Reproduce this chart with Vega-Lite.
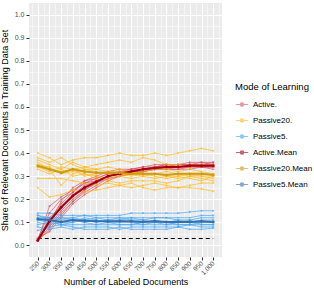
{
"$schema": "https://vega.github.io/schema/vega-lite/v6.json",
"autosize": "none",
"width": 193, "height": 254,
"padding": {"left": 29, "top": 3, "right": 92, "bottom": 34},
"background": "white",
"config": {
  "view": {"fill": "#EBEBEB", "stroke": null},
  "font": "Liberation Sans",
  "axis": {"domain": false, "gridColor": "white", "tickColor": "#333333", "tickSize": 3, "labelColor": "#4D4D4D", "labelFontSize": 7, "titleFontSize": 9, "titleFontWeight": "normal", "titleColor": "black", "labelOverlap": false}
},
"datasets": {
"ref": [{"n": 250, "v": 0.03}, {"n": 1000, "v": 0.03}],
"d": [
{"m":"Active.","r":1,"n":250,"v":0.02},{"m":"Active.","r":1,"n":300,"v":0.17},{"m":"Active.","r":1,"n":350,"v":0.21},{"m":"Active.","r":1,"n":400,"v":0.24},{"m":"Active.","r":1,"n":450,"v":0.27},{"m":"Active.","r":1,"n":500,"v":0.29},{"m":"Active.","r":1,"n":550,"v":0.31},{"m":"Active.","r":1,"n":600,"v":0.32},{"m":"Active.","r":1,"n":650,"v":0.33},{"m":"Active.","r":1,"n":700,"v":0.34},{"m":"Active.","r":1,"n":750,"v":0.34},{"m":"Active.","r":1,"n":800,"v":0.35},{"m":"Active.","r":1,"n":850,"v":0.35},{"m":"Active.","r":1,"n":900,"v":0.35},{"m":"Active.","r":1,"n":950,"v":0.36},{"m":"Active.","r":1,"n":1000,"v":0.36},
{"m":"Active.","r":2,"n":250,"v":0.03},{"m":"Active.","r":2,"n":300,"v":0.14},{"m":"Active.","r":2,"n":350,"v":0.20},{"m":"Active.","r":2,"n":400,"v":0.23},{"m":"Active.","r":2,"n":450,"v":0.27},{"m":"Active.","r":2,"n":500,"v":0.28},{"m":"Active.","r":2,"n":550,"v":0.30},{"m":"Active.","r":2,"n":600,"v":0.32},{"m":"Active.","r":2,"n":650,"v":0.32},{"m":"Active.","r":2,"n":700,"v":0.33},{"m":"Active.","r":2,"n":750,"v":0.34},{"m":"Active.","r":2,"n":800,"v":0.34},{"m":"Active.","r":2,"n":850,"v":0.35},{"m":"Active.","r":2,"n":900,"v":0.35},{"m":"Active.","r":2,"n":950,"v":0.35},{"m":"Active.","r":2,"n":1000,"v":0.35},
{"m":"Active.","r":3,"n":250,"v":0.02},{"m":"Active.","r":3,"n":300,"v":0.12},{"m":"Active.","r":3,"n":350,"v":0.17},{"m":"Active.","r":3,"n":400,"v":0.22},{"m":"Active.","r":3,"n":450,"v":0.26},{"m":"Active.","r":3,"n":500,"v":0.28},{"m":"Active.","r":3,"n":550,"v":0.30},{"m":"Active.","r":3,"n":600,"v":0.31},{"m":"Active.","r":3,"n":650,"v":0.33},{"m":"Active.","r":3,"n":700,"v":0.33},{"m":"Active.","r":3,"n":750,"v":0.34},{"m":"Active.","r":3,"n":800,"v":0.34},{"m":"Active.","r":3,"n":850,"v":0.34},{"m":"Active.","r":3,"n":900,"v":0.35},{"m":"Active.","r":3,"n":950,"v":0.35},{"m":"Active.","r":3,"n":1000,"v":0.34},
{"m":"Active.","r":4,"n":250,"v":0.02},{"m":"Active.","r":4,"n":300,"v":0.10},{"m":"Active.","r":4,"n":350,"v":0.16},{"m":"Active.","r":4,"n":400,"v":0.21},{"m":"Active.","r":4,"n":450,"v":0.25},{"m":"Active.","r":4,"n":500,"v":0.28},{"m":"Active.","r":4,"n":550,"v":0.30},{"m":"Active.","r":4,"n":600,"v":0.31},{"m":"Active.","r":4,"n":650,"v":0.32},{"m":"Active.","r":4,"n":700,"v":0.33},{"m":"Active.","r":4,"n":750,"v":0.33},{"m":"Active.","r":4,"n":800,"v":0.34},{"m":"Active.","r":4,"n":850,"v":0.34},{"m":"Active.","r":4,"n":900,"v":0.34},{"m":"Active.","r":4,"n":950,"v":0.35},{"m":"Active.","r":4,"n":1000,"v":0.35},
{"m":"Active.","r":5,"n":250,"v":0.03},{"m":"Active.","r":5,"n":300,"v":0.09},{"m":"Active.","r":5,"n":350,"v":0.15},{"m":"Active.","r":5,"n":400,"v":0.20},{"m":"Active.","r":5,"n":450,"v":0.24},{"m":"Active.","r":5,"n":500,"v":0.27},{"m":"Active.","r":5,"n":550,"v":0.29},{"m":"Active.","r":5,"n":600,"v":0.30},{"m":"Active.","r":5,"n":650,"v":0.32},{"m":"Active.","r":5,"n":700,"v":0.32},{"m":"Active.","r":5,"n":750,"v":0.33},{"m":"Active.","r":5,"n":800,"v":0.33},{"m":"Active.","r":5,"n":850,"v":0.34},{"m":"Active.","r":5,"n":900,"v":0.34},{"m":"Active.","r":5,"n":950,"v":0.34},{"m":"Active.","r":5,"n":1000,"v":0.34},
{"m":"Active.","r":6,"n":250,"v":0.02},{"m":"Active.","r":6,"n":300,"v":0.08},{"m":"Active.","r":6,"n":350,"v":0.14},{"m":"Active.","r":6,"n":400,"v":0.19},{"m":"Active.","r":6,"n":450,"v":0.23},{"m":"Active.","r":6,"n":500,"v":0.26},{"m":"Active.","r":6,"n":550,"v":0.29},{"m":"Active.","r":6,"n":600,"v":0.30},{"m":"Active.","r":6,"n":650,"v":0.31},{"m":"Active.","r":6,"n":700,"v":0.32},{"m":"Active.","r":6,"n":750,"v":0.33},{"m":"Active.","r":6,"n":800,"v":0.33},{"m":"Active.","r":6,"n":850,"v":0.33},{"m":"Active.","r":6,"n":900,"v":0.34},{"m":"Active.","r":6,"n":950,"v":0.34},{"m":"Active.","r":6,"n":1000,"v":0.34},
{"m":"Active.","r":7,"n":250,"v":0.02},{"m":"Active.","r":7,"n":300,"v":0.07},{"m":"Active.","r":7,"n":350,"v":0.13},{"m":"Active.","r":7,"n":400,"v":0.19},{"m":"Active.","r":7,"n":450,"v":0.24},{"m":"Active.","r":7,"n":500,"v":0.27},{"m":"Active.","r":7,"n":550,"v":0.30},{"m":"Active.","r":7,"n":600,"v":0.31},{"m":"Active.","r":7,"n":650,"v":0.31},{"m":"Active.","r":7,"n":700,"v":0.33},{"m":"Active.","r":7,"n":750,"v":0.33},{"m":"Active.","r":7,"n":800,"v":0.34},{"m":"Active.","r":7,"n":850,"v":0.34},{"m":"Active.","r":7,"n":900,"v":0.35},{"m":"Active.","r":7,"n":950,"v":0.34},{"m":"Active.","r":7,"n":1000,"v":0.33},
{"m":"Active.","r":8,"n":250,"v":0.03},{"m":"Active.","r":8,"n":300,"v":0.06},{"m":"Active.","r":8,"n":350,"v":0.12},{"m":"Active.","r":8,"n":400,"v":0.18},{"m":"Active.","r":8,"n":450,"v":0.22},{"m":"Active.","r":8,"n":500,"v":0.25},{"m":"Active.","r":8,"n":550,"v":0.28},{"m":"Active.","r":8,"n":600,"v":0.30},{"m":"Active.","r":8,"n":650,"v":0.31},{"m":"Active.","r":8,"n":700,"v":0.32},{"m":"Active.","r":8,"n":750,"v":0.33},{"m":"Active.","r":8,"n":800,"v":0.33},{"m":"Active.","r":8,"n":850,"v":0.33},{"m":"Active.","r":8,"n":900,"v":0.33},{"m":"Active.","r":8,"n":950,"v":0.34},{"m":"Active.","r":8,"n":1000,"v":0.34},
{"m":"Active.","r":9,"n":250,"v":0.02},{"m":"Active.","r":9,"n":300,"v":0.11},{"m":"Active.","r":9,"n":350,"v":0.18},{"m":"Active.","r":9,"n":400,"v":0.23},{"m":"Active.","r":9,"n":450,"v":0.28},{"m":"Active.","r":9,"n":500,"v":0.30},{"m":"Active.","r":9,"n":550,"v":0.32},{"m":"Active.","r":9,"n":600,"v":0.33},{"m":"Active.","r":9,"n":650,"v":0.33},{"m":"Active.","r":9,"n":700,"v":0.34},{"m":"Active.","r":9,"n":750,"v":0.35},{"m":"Active.","r":9,"n":800,"v":0.35},{"m":"Active.","r":9,"n":850,"v":0.35},{"m":"Active.","r":9,"n":900,"v":0.36},{"m":"Active.","r":9,"n":950,"v":0.36},{"m":"Active.","r":9,"n":1000,"v":0.35},
{"m":"Active.","r":10,"n":250,"v":0.02},{"m":"Active.","r":10,"n":300,"v":0.10},{"m":"Active.","r":10,"n":350,"v":0.19},{"m":"Active.","r":10,"n":400,"v":0.25},{"m":"Active.","r":10,"n":450,"v":0.28},{"m":"Active.","r":10,"n":500,"v":0.29},{"m":"Active.","r":10,"n":550,"v":0.31},{"m":"Active.","r":10,"n":600,"v":0.31},{"m":"Active.","r":10,"n":650,"v":0.32},{"m":"Active.","r":10,"n":700,"v":0.33},{"m":"Active.","r":10,"n":750,"v":0.34},{"m":"Active.","r":10,"n":800,"v":0.35},{"m":"Active.","r":10,"n":850,"v":0.34},{"m":"Active.","r":10,"n":900,"v":0.35},{"m":"Active.","r":10,"n":950,"v":0.35},{"m":"Active.","r":10,"n":1000,"v":0.36},
{"m":"Passive20.","r":11,"n":250,"v":0.40},{"m":"Passive20.","r":11,"n":300,"v":0.38},{"m":"Passive20.","r":11,"n":350,"v":0.35},{"m":"Passive20.","r":11,"n":400,"v":0.37},{"m":"Passive20.","r":11,"n":450,"v":0.38},{"m":"Passive20.","r":11,"n":500,"v":0.38},{"m":"Passive20.","r":11,"n":550,"v":0.39},{"m":"Passive20.","r":11,"n":600,"v":0.40},{"m":"Passive20.","r":11,"n":650,"v":0.39},{"m":"Passive20.","r":11,"n":700,"v":0.39},{"m":"Passive20.","r":11,"n":750,"v":0.40},{"m":"Passive20.","r":11,"n":800,"v":0.39},{"m":"Passive20.","r":11,"n":850,"v":0.40},{"m":"Passive20.","r":11,"n":900,"v":0.41},{"m":"Passive20.","r":11,"n":950,"v":0.42},{"m":"Passive20.","r":11,"n":1000,"v":0.41},
{"m":"Passive20.","r":12,"n":250,"v":0.37},{"m":"Passive20.","r":12,"n":300,"v":0.35},{"m":"Passive20.","r":12,"n":350,"v":0.33},{"m":"Passive20.","r":12,"n":400,"v":0.36},{"m":"Passive20.","r":12,"n":450,"v":0.34},{"m":"Passive20.","r":12,"n":500,"v":0.35},{"m":"Passive20.","r":12,"n":550,"v":0.36},{"m":"Passive20.","r":12,"n":600,"v":0.37},{"m":"Passive20.","r":12,"n":650,"v":0.36},{"m":"Passive20.","r":12,"n":700,"v":0.38},{"m":"Passive20.","r":12,"n":750,"v":0.37},{"m":"Passive20.","r":12,"n":800,"v":0.35},{"m":"Passive20.","r":12,"n":850,"v":0.35},{"m":"Passive20.","r":12,"n":900,"v":0.34},{"m":"Passive20.","r":12,"n":950,"v":0.35},{"m":"Passive20.","r":12,"n":1000,"v":0.34},
{"m":"Passive20.","r":13,"n":250,"v":0.36},{"m":"Passive20.","r":13,"n":300,"v":0.33},{"m":"Passive20.","r":13,"n":350,"v":0.26},{"m":"Passive20.","r":13,"n":400,"v":0.31},{"m":"Passive20.","r":13,"n":450,"v":0.33},{"m":"Passive20.","r":13,"n":500,"v":0.32},{"m":"Passive20.","r":13,"n":550,"v":0.31},{"m":"Passive20.","r":13,"n":600,"v":0.30},{"m":"Passive20.","r":13,"n":650,"v":0.31},{"m":"Passive20.","r":13,"n":700,"v":0.32},{"m":"Passive20.","r":13,"n":750,"v":0.33},{"m":"Passive20.","r":13,"n":800,"v":0.33},{"m":"Passive20.","r":13,"n":850,"v":0.32},{"m":"Passive20.","r":13,"n":900,"v":0.33},{"m":"Passive20.","r":13,"n":950,"v":0.32},{"m":"Passive20.","r":13,"n":1000,"v":0.31},
{"m":"Passive20.","r":14,"n":250,"v":0.35},{"m":"Passive20.","r":14,"n":300,"v":0.34},{"m":"Passive20.","r":14,"n":350,"v":0.31},{"m":"Passive20.","r":14,"n":400,"v":0.32},{"m":"Passive20.","r":14,"n":450,"v":0.31},{"m":"Passive20.","r":14,"n":500,"v":0.30},{"m":"Passive20.","r":14,"n":550,"v":0.29},{"m":"Passive20.","r":14,"n":600,"v":0.30},{"m":"Passive20.","r":14,"n":650,"v":0.29},{"m":"Passive20.","r":14,"n":700,"v":0.30},{"m":"Passive20.","r":14,"n":750,"v":0.31},{"m":"Passive20.","r":14,"n":800,"v":0.30},{"m":"Passive20.","r":14,"n":850,"v":0.30},{"m":"Passive20.","r":14,"n":900,"v":0.31},{"m":"Passive20.","r":14,"n":950,"v":0.30},{"m":"Passive20.","r":14,"n":1000,"v":0.30},
{"m":"Passive20.","r":15,"n":250,"v":0.34},{"m":"Passive20.","r":15,"n":300,"v":0.32},{"m":"Passive20.","r":15,"n":350,"v":0.34},{"m":"Passive20.","r":15,"n":400,"v":0.33},{"m":"Passive20.","r":15,"n":450,"v":0.30},{"m":"Passive20.","r":15,"n":500,"v":0.31},{"m":"Passive20.","r":15,"n":550,"v":0.32},{"m":"Passive20.","r":15,"n":600,"v":0.32},{"m":"Passive20.","r":15,"n":650,"v":0.31},{"m":"Passive20.","r":15,"n":700,"v":0.30},{"m":"Passive20.","r":15,"n":750,"v":0.29},{"m":"Passive20.","r":15,"n":800,"v":0.30},{"m":"Passive20.","r":15,"n":850,"v":0.29},{"m":"Passive20.","r":15,"n":900,"v":0.30},{"m":"Passive20.","r":15,"n":950,"v":0.30},{"m":"Passive20.","r":15,"n":1000,"v":0.29},
{"m":"Passive20.","r":16,"n":250,"v":0.33},{"m":"Passive20.","r":16,"n":300,"v":0.31},{"m":"Passive20.","r":16,"n":350,"v":0.33},{"m":"Passive20.","r":16,"n":400,"v":0.30},{"m":"Passive20.","r":16,"n":450,"v":0.31},{"m":"Passive20.","r":16,"n":500,"v":0.29},{"m":"Passive20.","r":16,"n":550,"v":0.28},{"m":"Passive20.","r":16,"n":600,"v":0.27},{"m":"Passive20.","r":16,"n":650,"v":0.28},{"m":"Passive20.","r":16,"n":700,"v":0.28},{"m":"Passive20.","r":16,"n":750,"v":0.28},{"m":"Passive20.","r":16,"n":800,"v":0.27},{"m":"Passive20.","r":16,"n":850,"v":0.28},{"m":"Passive20.","r":16,"n":900,"v":0.30},{"m":"Passive20.","r":16,"n":950,"v":0.29},{"m":"Passive20.","r":16,"n":1000,"v":0.28},
{"m":"Passive20.","r":17,"n":250,"v":0.29},{"m":"Passive20.","r":17,"n":300,"v":0.29},{"m":"Passive20.","r":17,"n":350,"v":0.29},{"m":"Passive20.","r":17,"n":400,"v":0.28},{"m":"Passive20.","r":17,"n":450,"v":0.27},{"m":"Passive20.","r":17,"n":500,"v":0.26},{"m":"Passive20.","r":17,"n":550,"v":0.27},{"m":"Passive20.","r":17,"n":600,"v":0.26},{"m":"Passive20.","r":17,"n":650,"v":0.25},{"m":"Passive20.","r":17,"n":700,"v":0.26},{"m":"Passive20.","r":17,"n":750,"v":0.27},{"m":"Passive20.","r":17,"n":800,"v":0.26},{"m":"Passive20.","r":17,"n":850,"v":0.25},{"m":"Passive20.","r":17,"n":900,"v":0.26},{"m":"Passive20.","r":17,"n":950,"v":0.27},{"m":"Passive20.","r":17,"n":1000,"v":0.27},
{"m":"Passive20.","r":18,"n":250,"v":0.25},{"m":"Passive20.","r":18,"n":300,"v":0.21},{"m":"Passive20.","r":18,"n":350,"v":0.22},{"m":"Passive20.","r":18,"n":400,"v":0.24},{"m":"Passive20.","r":18,"n":450,"v":0.23},{"m":"Passive20.","r":18,"n":500,"v":0.24},{"m":"Passive20.","r":18,"n":550,"v":0.25},{"m":"Passive20.","r":18,"n":600,"v":0.26},{"m":"Passive20.","r":18,"n":650,"v":0.27},{"m":"Passive20.","r":18,"n":700,"v":0.25},{"m":"Passive20.","r":18,"n":750,"v":0.24},{"m":"Passive20.","r":18,"n":800,"v":0.25},{"m":"Passive20.","r":18,"n":850,"v":0.25},{"m":"Passive20.","r":18,"n":900,"v":0.25},{"m":"Passive20.","r":18,"n":950,"v":0.245},{"m":"Passive20.","r":18,"n":1000,"v":0.235},
{"m":"Passive20.","r":19,"n":250,"v":0.38},{"m":"Passive20.","r":19,"n":300,"v":0.36},{"m":"Passive20.","r":19,"n":350,"v":0.38},{"m":"Passive20.","r":19,"n":400,"v":0.35},{"m":"Passive20.","r":19,"n":450,"v":0.33},{"m":"Passive20.","r":19,"n":500,"v":0.33},{"m":"Passive20.","r":19,"n":550,"v":0.34},{"m":"Passive20.","r":19,"n":600,"v":0.33},{"m":"Passive20.","r":19,"n":650,"v":0.32},{"m":"Passive20.","r":19,"n":700,"v":0.31},{"m":"Passive20.","r":19,"n":750,"v":0.31},{"m":"Passive20.","r":19,"n":800,"v":0.32},{"m":"Passive20.","r":19,"n":850,"v":0.31},{"m":"Passive20.","r":19,"n":900,"v":0.30},{"m":"Passive20.","r":19,"n":950,"v":0.31},{"m":"Passive20.","r":19,"n":1000,"v":0.31},
{"m":"Passive20.","r":20,"n":250,"v":0.34},{"m":"Passive20.","r":20,"n":300,"v":0.33},{"m":"Passive20.","r":20,"n":350,"v":0.32},{"m":"Passive20.","r":20,"n":400,"v":0.33},{"m":"Passive20.","r":20,"n":450,"v":0.34},{"m":"Passive20.","r":20,"n":500,"v":0.33},{"m":"Passive20.","r":20,"n":550,"v":0.32},{"m":"Passive20.","r":20,"n":600,"v":0.31},{"m":"Passive20.","r":20,"n":650,"v":0.30},{"m":"Passive20.","r":20,"n":700,"v":0.31},{"m":"Passive20.","r":20,"n":750,"v":0.30},{"m":"Passive20.","r":20,"n":800,"v":0.29},{"m":"Passive20.","r":20,"n":850,"v":0.30},{"m":"Passive20.","r":20,"n":900,"v":0.29},{"m":"Passive20.","r":20,"n":950,"v":0.28},{"m":"Passive20.","r":20,"n":1000,"v":0.30},
{"m":"Passive5.","r":21,"n":250,"v":0.14},{"m":"Passive5.","r":21,"n":300,"v":0.14},{"m":"Passive5.","r":21,"n":350,"v":0.13},{"m":"Passive5.","r":21,"n":400,"v":0.13},{"m":"Passive5.","r":21,"n":450,"v":0.13},{"m":"Passive5.","r":21,"n":500,"v":0.13},{"m":"Passive5.","r":21,"n":550,"v":0.13},{"m":"Passive5.","r":21,"n":600,"v":0.13},{"m":"Passive5.","r":21,"n":650,"v":0.14},{"m":"Passive5.","r":21,"n":700,"v":0.14},{"m":"Passive5.","r":21,"n":750,"v":0.14},{"m":"Passive5.","r":21,"n":800,"v":0.14},{"m":"Passive5.","r":21,"n":850,"v":0.14},{"m":"Passive5.","r":21,"n":900,"v":0.145},{"m":"Passive5.","r":21,"n":950,"v":0.15},{"m":"Passive5.","r":21,"n":1000,"v":0.15},
{"m":"Passive5.","r":22,"n":250,"v":0.13},{"m":"Passive5.","r":22,"n":300,"v":0.12},{"m":"Passive5.","r":22,"n":350,"v":0.12},{"m":"Passive5.","r":22,"n":400,"v":0.12},{"m":"Passive5.","r":22,"n":450,"v":0.13},{"m":"Passive5.","r":22,"n":500,"v":0.12},{"m":"Passive5.","r":22,"n":550,"v":0.12},{"m":"Passive5.","r":22,"n":600,"v":0.12},{"m":"Passive5.","r":22,"n":650,"v":0.12},{"m":"Passive5.","r":22,"n":700,"v":0.12},{"m":"Passive5.","r":22,"n":750,"v":0.12},{"m":"Passive5.","r":22,"n":800,"v":0.12},{"m":"Passive5.","r":22,"n":850,"v":0.12},{"m":"Passive5.","r":22,"n":900,"v":0.12},{"m":"Passive5.","r":22,"n":950,"v":0.13},{"m":"Passive5.","r":22,"n":1000,"v":0.13},
{"m":"Passive5.","r":23,"n":250,"v":0.12},{"m":"Passive5.","r":23,"n":300,"v":0.12},{"m":"Passive5.","r":23,"n":350,"v":0.11},{"m":"Passive5.","r":23,"n":400,"v":0.12},{"m":"Passive5.","r":23,"n":450,"v":0.11},{"m":"Passive5.","r":23,"n":500,"v":0.12},{"m":"Passive5.","r":23,"n":550,"v":0.11},{"m":"Passive5.","r":23,"n":600,"v":0.12},{"m":"Passive5.","r":23,"n":650,"v":0.11},{"m":"Passive5.","r":23,"n":700,"v":0.11},{"m":"Passive5.","r":23,"n":750,"v":0.12},{"m":"Passive5.","r":23,"n":800,"v":0.12},{"m":"Passive5.","r":23,"n":850,"v":0.11},{"m":"Passive5.","r":23,"n":900,"v":0.11},{"m":"Passive5.","r":23,"n":950,"v":0.12},{"m":"Passive5.","r":23,"n":1000,"v":0.12},
{"m":"Passive5.","r":24,"n":250,"v":0.11},{"m":"Passive5.","r":24,"n":300,"v":0.11},{"m":"Passive5.","r":24,"n":350,"v":0.10},{"m":"Passive5.","r":24,"n":400,"v":0.10},{"m":"Passive5.","r":24,"n":450,"v":0.11},{"m":"Passive5.","r":24,"n":500,"v":0.10},{"m":"Passive5.","r":24,"n":550,"v":0.11},{"m":"Passive5.","r":24,"n":600,"v":0.11},{"m":"Passive5.","r":24,"n":650,"v":0.10},{"m":"Passive5.","r":24,"n":700,"v":0.10},{"m":"Passive5.","r":24,"n":750,"v":0.10},{"m":"Passive5.","r":24,"n":800,"v":0.10},{"m":"Passive5.","r":24,"n":850,"v":0.11},{"m":"Passive5.","r":24,"n":900,"v":0.10},{"m":"Passive5.","r":24,"n":950,"v":0.11},{"m":"Passive5.","r":24,"n":1000,"v":0.11},
{"m":"Passive5.","r":25,"n":250,"v":0.10},{"m":"Passive5.","r":25,"n":300,"v":0.09},{"m":"Passive5.","r":25,"n":350,"v":0.10},{"m":"Passive5.","r":25,"n":400,"v":0.11},{"m":"Passive5.","r":25,"n":450,"v":0.10},{"m":"Passive5.","r":25,"n":500,"v":0.11},{"m":"Passive5.","r":25,"n":550,"v":0.10},{"m":"Passive5.","r":25,"n":600,"v":0.10},{"m":"Passive5.","r":25,"n":650,"v":0.10},{"m":"Passive5.","r":25,"n":700,"v":0.09},{"m":"Passive5.","r":25,"n":750,"v":0.10},{"m":"Passive5.","r":25,"n":800,"v":0.10},{"m":"Passive5.","r":25,"n":850,"v":0.10},{"m":"Passive5.","r":25,"n":900,"v":0.10},{"m":"Passive5.","r":25,"n":950,"v":0.10},{"m":"Passive5.","r":25,"n":1000,"v":0.10},
{"m":"Passive5.","r":26,"n":250,"v":0.09},{"m":"Passive5.","r":26,"n":300,"v":0.10},{"m":"Passive5.","r":26,"n":350,"v":0.09},{"m":"Passive5.","r":26,"n":400,"v":0.09},{"m":"Passive5.","r":26,"n":450,"v":0.09},{"m":"Passive5.","r":26,"n":500,"v":0.09},{"m":"Passive5.","r":26,"n":550,"v":0.09},{"m":"Passive5.","r":26,"n":600,"v":0.09},{"m":"Passive5.","r":26,"n":650,"v":0.09},{"m":"Passive5.","r":26,"n":700,"v":0.09},{"m":"Passive5.","r":26,"n":750,"v":0.09},{"m":"Passive5.","r":26,"n":800,"v":0.09},{"m":"Passive5.","r":26,"n":850,"v":0.09},{"m":"Passive5.","r":26,"n":900,"v":0.09},{"m":"Passive5.","r":26,"n":950,"v":0.09},{"m":"Passive5.","r":26,"n":1000,"v":0.09},
{"m":"Passive5.","r":27,"n":250,"v":0.08},{"m":"Passive5.","r":27,"n":300,"v":0.07},{"m":"Passive5.","r":27,"n":350,"v":0.08},{"m":"Passive5.","r":27,"n":400,"v":0.07},{"m":"Passive5.","r":27,"n":450,"v":0.08},{"m":"Passive5.","r":27,"n":500,"v":0.08},{"m":"Passive5.","r":27,"n":550,"v":0.08},{"m":"Passive5.","r":27,"n":600,"v":0.07},{"m":"Passive5.","r":27,"n":650,"v":0.08},{"m":"Passive5.","r":27,"n":700,"v":0.08},{"m":"Passive5.","r":27,"n":750,"v":0.08},{"m":"Passive5.","r":27,"n":800,"v":0.08},{"m":"Passive5.","r":27,"n":850,"v":0.08},{"m":"Passive5.","r":27,"n":900,"v":0.09},{"m":"Passive5.","r":27,"n":950,"v":0.08},{"m":"Passive5.","r":27,"n":1000,"v":0.08},
{"m":"Passive5.","r":28,"n":250,"v":0.065},{"m":"Passive5.","r":28,"n":300,"v":0.08},{"m":"Passive5.","r":28,"n":350,"v":0.09},{"m":"Passive5.","r":28,"n":400,"v":0.08},{"m":"Passive5.","r":28,"n":450,"v":0.07},{"m":"Passive5.","r":28,"n":500,"v":0.07},{"m":"Passive5.","r":28,"n":550,"v":0.07},{"m":"Passive5.","r":28,"n":600,"v":0.08},{"m":"Passive5.","r":28,"n":650,"v":0.07},{"m":"Passive5.","r":28,"n":700,"v":0.07},{"m":"Passive5.","r":28,"n":750,"v":0.07},{"m":"Passive5.","r":28,"n":800,"v":0.07},{"m":"Passive5.","r":28,"n":850,"v":0.08},{"m":"Passive5.","r":28,"n":900,"v":0.07},{"m":"Passive5.","r":28,"n":950,"v":0.07},{"m":"Passive5.","r":28,"n":1000,"v":0.075},
{"m":"Passive5.","r":29,"n":250,"v":0.13},{"m":"Passive5.","r":29,"n":300,"v":0.11},{"m":"Passive5.","r":29,"n":350,"v":0.09},{"m":"Passive5.","r":29,"n":400,"v":0.10},{"m":"Passive5.","r":29,"n":450,"v":0.12},{"m":"Passive5.","r":29,"n":500,"v":0.11},{"m":"Passive5.","r":29,"n":550,"v":0.10},{"m":"Passive5.","r":29,"n":600,"v":0.09},{"m":"Passive5.","r":29,"n":650,"v":0.09},{"m":"Passive5.","r":29,"n":700,"v":0.10},{"m":"Passive5.","r":29,"n":750,"v":0.11},{"m":"Passive5.","r":29,"n":800,"v":0.10},{"m":"Passive5.","r":29,"n":850,"v":0.09},{"m":"Passive5.","r":29,"n":900,"v":0.09},{"m":"Passive5.","r":29,"n":950,"v":0.10},{"m":"Passive5.","r":29,"n":1000,"v":0.10},
{"m":"Passive5.","r":30,"n":250,"v":0.11},{"m":"Passive5.","r":30,"n":300,"v":0.10},{"m":"Passive5.","r":30,"n":350,"v":0.12},{"m":"Passive5.","r":30,"n":400,"v":0.11},{"m":"Passive5.","r":30,"n":450,"v":0.10},{"m":"Passive5.","r":30,"n":500,"v":0.09},{"m":"Passive5.","r":30,"n":550,"v":0.10},{"m":"Passive5.","r":30,"n":600,"v":0.11},{"m":"Passive5.","r":30,"n":650,"v":0.12},{"m":"Passive5.","r":30,"n":700,"v":0.11},{"m":"Passive5.","r":30,"n":750,"v":0.10},{"m":"Passive5.","r":30,"n":800,"v":0.09},{"m":"Passive5.","r":30,"n":850,"v":0.10},{"m":"Passive5.","r":30,"n":900,"v":0.11},{"m":"Passive5.","r":30,"n":950,"v":0.09},{"m":"Passive5.","r":30,"n":1000,"v":0.09},
{"m":"Active.Mean","r":0,"n":250,"v":0.022},{"m":"Active.Mean","r":0,"n":300,"v":0.105},{"m":"Active.Mean","r":0,"n":350,"v":0.165},{"m":"Active.Mean","r":0,"n":400,"v":0.215},{"m":"Active.Mean","r":0,"n":450,"v":0.25},{"m":"Active.Mean","r":0,"n":500,"v":0.275},{"m":"Active.Mean","r":0,"n":550,"v":0.30},{"m":"Active.Mean","r":0,"n":600,"v":0.31},{"m":"Active.Mean","r":0,"n":650,"v":0.32},{"m":"Active.Mean","r":0,"n":700,"v":0.33},{"m":"Active.Mean","r":0,"n":750,"v":0.335},{"m":"Active.Mean","r":0,"n":800,"v":0.34},{"m":"Active.Mean","r":0,"n":850,"v":0.34},{"m":"Active.Mean","r":0,"n":900,"v":0.345},{"m":"Active.Mean","r":0,"n":950,"v":0.345},{"m":"Active.Mean","r":0,"n":1000,"v":0.345},
{"m":"Passive20.Mean","r":0,"n":250,"v":0.345},{"m":"Passive20.Mean","r":0,"n":300,"v":0.33},{"m":"Passive20.Mean","r":0,"n":350,"v":0.315},{"m":"Passive20.Mean","r":0,"n":400,"v":0.33},{"m":"Passive20.Mean","r":0,"n":450,"v":0.32},{"m":"Passive20.Mean","r":0,"n":500,"v":0.315},{"m":"Passive20.Mean","r":0,"n":550,"v":0.315},{"m":"Passive20.Mean","r":0,"n":600,"v":0.315},{"m":"Passive20.Mean","r":0,"n":650,"v":0.31},{"m":"Passive20.Mean","r":0,"n":700,"v":0.31},{"m":"Passive20.Mean","r":0,"n":750,"v":0.31},{"m":"Passive20.Mean","r":0,"n":800,"v":0.305},{"m":"Passive20.Mean","r":0,"n":850,"v":0.31},{"m":"Passive20.Mean","r":0,"n":900,"v":0.31},{"m":"Passive20.Mean","r":0,"n":950,"v":0.31},{"m":"Passive20.Mean","r":0,"n":1000,"v":0.305},
{"m":"Passive5.Mean","r":0,"n":250,"v":0.115},{"m":"Passive5.Mean","r":0,"n":300,"v":0.11},{"m":"Passive5.Mean","r":0,"n":350,"v":0.102},{"m":"Passive5.Mean","r":0,"n":400,"v":0.11},{"m":"Passive5.Mean","r":0,"n":450,"v":0.107},{"m":"Passive5.Mean","r":0,"n":500,"v":0.105},{"m":"Passive5.Mean","r":0,"n":550,"v":0.105},{"m":"Passive5.Mean","r":0,"n":600,"v":0.105},{"m":"Passive5.Mean","r":0,"n":650,"v":0.105},{"m":"Passive5.Mean","r":0,"n":700,"v":0.102},{"m":"Passive5.Mean","r":0,"n":750,"v":0.105},{"m":"Passive5.Mean","r":0,"n":800,"v":0.102},{"m":"Passive5.Mean","r":0,"n":850,"v":0.102},{"m":"Passive5.Mean","r":0,"n":900,"v":0.102},{"m":"Passive5.Mean","r":0,"n":950,"v":0.105},{"m":"Passive5.Mean","r":0,"n":1000,"v":0.102}
]
},
"layer": [
  {
    "data": {"name": "ref"},
    "mark": {"type": "point", "opacity": 0},
    "encoding": {
      "x": {"field": "n", "type": "quantitative", "scale": {"domain": [212.5, 1037.5], "nice": false, "zero": false},
            "axis": {"orient": "bottom", "values": [225,275,325,375,425,475,525,575,625,675,725,775,825,875,925,975,1025], "grid": true, "gridWidth": 0.5, "labels": false, "ticks": false, "title": null}},
      "y": {"field": "v", "type": "quantitative", "scale": {"domain": [-0.05, 1.05], "nice": false, "zero": false},
            "axis": {"orient": "left", "values": [0.05,0.15,0.25,0.35,0.45,0.55,0.65,0.75,0.85,0.95], "grid": true, "gridWidth": 0.5, "labels": false, "ticks": false, "title": null}}
    }
  },
  {
    "encoding": {
      "x": {"field": "n", "type": "quantitative",
            "axis": {"orient": "bottom", "values": [250,300,350,400,450,500,550,600,650,700,750,800,850,900,950,1000], "grid": true, "gridWidth": 1, "labelAngle": -45, "labelAlign": "right", "labelBaseline": "middle", "labelFontSize": 6.5, "labelPadding": 2, "title": "Number of Labeled Documents", "titlePadding": 2}},
      "y": {"field": "v", "type": "quantitative",
            "axis": {"orient": "left", "values": [0,0.1,0.2,0.3,0.4,0.5,0.6,0.7,0.8,0.9,1.0], "format": ".1f", "grid": true, "gridWidth": 1, "labelPadding": 2, "title": "Share of Relevant Documents in Training Data Set", "titlePadding": 5}}
    },
    "layer": [
      {
        "data": {"name": "ref"},
        "mark": {"type": "line", "color": "black", "strokeDash": [4, 3], "strokeWidth": 1}
      },
      {
        "data": {"name": "d"},
        "transform": [{"filter": {"field": "m", "oneOf": ["Active.", "Passive20.", "Passive5."]}}],
        "mark": {"type": "line", "strokeWidth": 1, "opacity": 0.7},
        "encoding": {
          "detail": {"field": "r"},
          "color": {"field": "m", "type": "nominal",
            "scale": {"domain": ["Active.", "Passive20.", "Passive5.", "Active.Mean", "Passive20.Mean", "Passive5.Mean"],
                      "range": ["#D9545E", "#FFB914", "#45A6F2", "#A00010", "#CF9A14", "#3570AE"]},
            "legend": {"title": "Mode of Learning", "orient": "none", "legendX": 206, "legendY": 79,
                       "titleFontSize": 9.5, "titleFontWeight": "normal", "titleColor": "black", "titlePadding": 6,
                       "labelFontSize": 8, "labelColor": "black", "labelOffset": 4,
                       "symbolType": "M-1,0H1M0.28,0A0.28,0.28,0,1,1,-0.28,0A0.28,0.28,0,1,1,0.28,0Z",
                       "symbolSize": 150, "symbolStrokeWidth": 1.2, "symbolOpacity": 1, "rowPadding": 4}}
        }
      },
      {
        "data": {"name": "d"},
        "transform": [{"filter": {"field": "m", "oneOf": ["Active.", "Passive20.", "Passive5."]}}],
        "mark": {"type": "point", "filled": true, "size": 5, "opacity": 0.6},
        "encoding": {"color": {"field": "m", "type": "nominal"}}
      },
      {
        "data": {"name": "d"},
        "transform": [{"filter": {"field": "m", "oneOf": ["Active.Mean", "Passive20.Mean", "Passive5.Mean"]}}],
        "mark": {"type": "line", "strokeWidth": 2},
        "encoding": {"color": {"field": "m", "type": "nominal"}}
      },
      {
        "data": {"name": "d"},
        "transform": [{"filter": {"field": "m", "oneOf": ["Active.Mean", "Passive20.Mean", "Passive5.Mean"]}}],
        "mark": {"type": "point", "filled": true, "size": 8, "opacity": 1},
        "encoding": {"color": {"field": "m", "type": "nominal"}}
      }
    ]
  }
],
"resolve": {"axis": {"x": "independent", "y": "independent"}}
}
